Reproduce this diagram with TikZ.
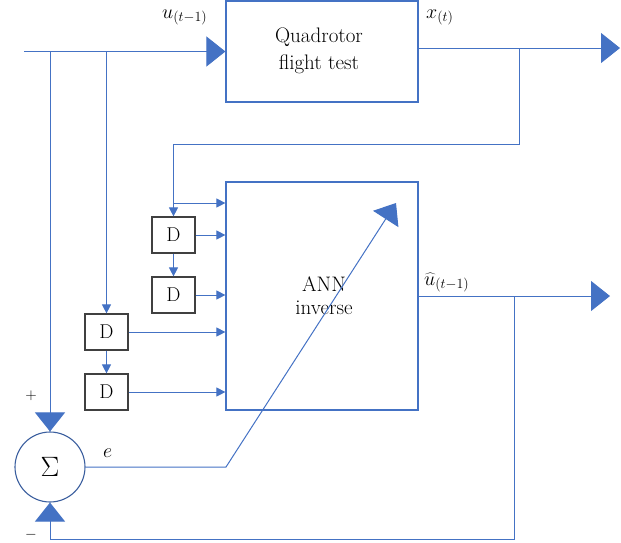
\RequirePackage{fix-cm}
\documentclass[tikz,border=0pt]{standalone}
\usetikzlibrary{arrows.meta}
\definecolor{lineblue}{HTML}{4472C4}
\definecolor{circblue}{HTML}{3A5E9E}
\definecolor{dgray}{HTML}{404040}
\begin{document}
\begin{tikzpicture}[x=1pt,y=-1pt,
  conn/.style={draw=lineblue,line width=1pt},
  bigtip/.style={-{Triangle[length=19pt,width=30pt]}},
  smalltip/.style={-{Triangle[length=9pt,width=9pt]}},
  bluebox/.style={draw=lineblue,line width=1.2pt,inner sep=0pt},
  dbox/.style={draw=dgray,line width=1.2pt,minimum width=43pt,minimum height=36pt,inner sep=0pt,font=\fontsize{20}{24}\selectfont},
  lbl/.style={inner sep=0pt,font=\fontsize{20}{24}\selectfont}
]
\useasboundingbox (0,0) rectangle (621,542);
% blocks
\node[bluebox,minimum width=192pt,minimum height=101pt] (quad) at (322,51.5) {};
\node[lbl,align=center,font=\fontsize{21}{27}\selectfont] (quadt) at (319,51) {Quadrotor\\flight test};
\node[bluebox,minimum width=192pt,minimum height=228pt] (ann) at (322,296) {};
\node[lbl,align=center,font=\fontsize{21}{23}\selectfont] (annt) at (324,296) {ANN\\inverse};
\node[dbox] (d1) at (173.5,235) {D};
\node[dbox] (d2) at (173.5,295) {D};
\node[dbox] (d3) at (106.5,332) {D};
\node[dbox] (d4) at (106.5,392) {D};
\node[draw=circblue,line width=1.1pt,circle,minimum size=70pt,inner sep=0pt,font=\fontsize{28}{32}\selectfont] (sig) at (50,467) {$\Sigma$};
% coordinates
\coordinate (in) at (24,51.5);
\coordinate (b1) at (50,51.5);
\coordinate (b2) at (106.5,51.5);
\coordinate (xo) at (620,48);
\coordinate (xb) at (519,48);
\coordinate (fb1) at (519,144);
\coordinate (fb2) at (173.5,144);
\coordinate (fb3) at (173.5,203);
\coordinate (uo) at (610,296);
\coordinate (ub) at (514,296);
\coordinate (ub1) at (514,539);
\coordinate (ub2) at (50,539);
\coordinate (e1) at (226,467);
\coordinate (etip) at (396,203);
% connectors
\draw[conn,bigtip] (in) -- (quad.west);
\draw[conn,bigtip] (quad.east|-xo) -- (xo);
\draw[conn] (xb) -- (fb1) -- (fb2) -- (fb3);
\draw[conn,smalltip] (fb3) -- (d1.north);
\draw[conn,smalltip] (fb3) -- (ann.west|-fb3);
\draw[conn,smalltip] (d1.east) -- (ann.west|-d1.east);
\draw[conn,smalltip] (d1.south) -- (d2.north);
\draw[conn,smalltip] (d2.east) -- (ann.west|-d2.east);
\draw[conn,smalltip] (b2) -- (d3.north);
\draw[conn,smalltip] (d3.south) -- (d4.north);
\draw[conn,smalltip] (d3.east) -- (ann.west|-d3.east);
\draw[conn,smalltip] (d4.east) -- (ann.west|-d4.east);
\draw[conn,bigtip] (b1) -- (sig.north);
\draw[conn,bigtip] (ann.east|-uo) -- (uo);
\draw[conn,bigtip] (ub) -- (ub1) -- (ub2) -- (sig.south);
\draw[conn,bigtip] (sig.east) -- (e1) -- (etip);
% labels
\node[lbl,anchor=base west] (lu) at (162,18) {$u_{(t-1)}$};
\node[lbl,anchor=base west] (lx) at (426,18) {$x_{(t)}$};
\node[lbl,anchor=base west] (luh) at (424,285) {$\widehat{u}_{(t-1)}$};
\node[lbl,anchor=base west] (le) at (103,457) {$e$};
\node[inner sep=0pt,font=\fontsize{15}{17}\selectfont] (lp) at (31,396) {$+$};
\node[inner sep=0pt,font=\fontsize{15}{17}\selectfont] (lm) at (31,535) {$-$};
\end{tikzpicture}
\end{document}
